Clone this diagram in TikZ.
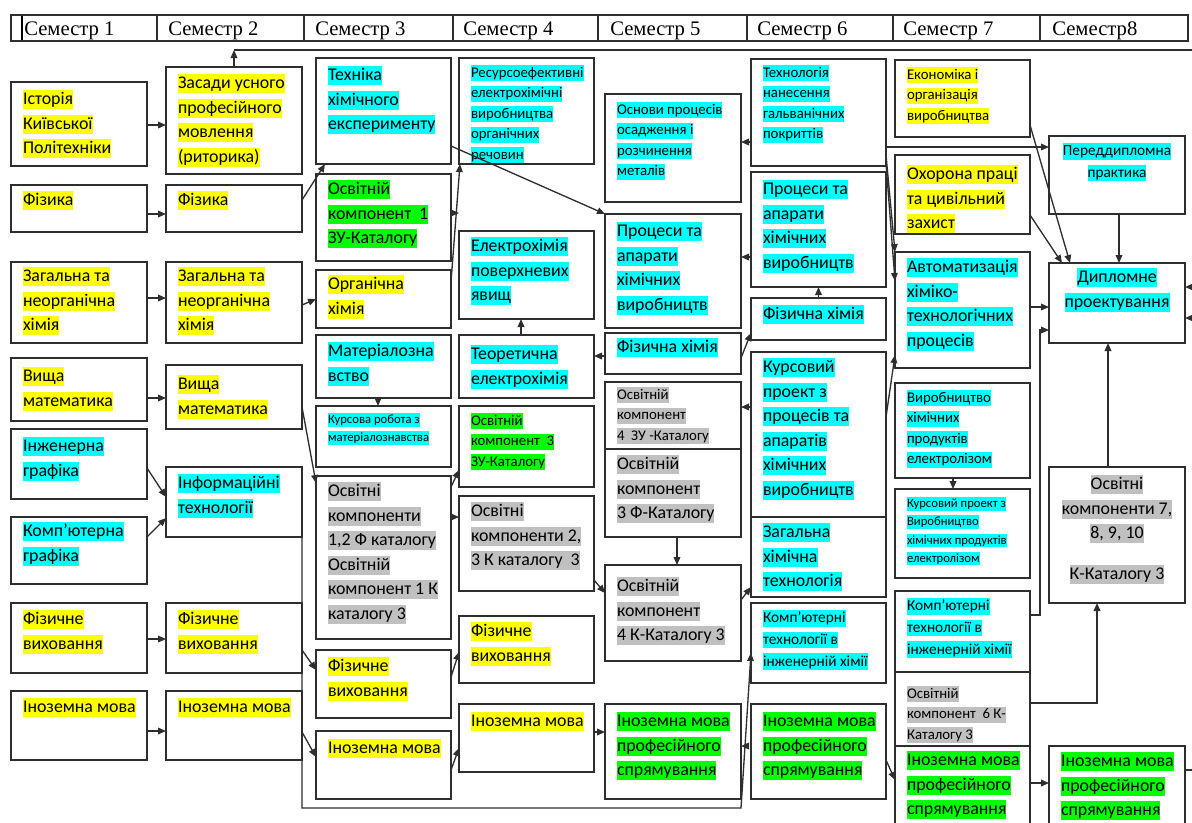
\documentclass[tikz,border=0pt]{standalone}
\usepackage{fontspec}
\setmainfont{Carlito}
\newfontfamily\hdrfont{Liberation Serif}
\usetikzlibrary{arrows.meta,calc}
\definecolor{hy}{HTML}{FFFF00}
\definecolor{hc}{HTML}{00FFFF}
\definecolor{hg}{HTML}{00FF00}
\definecolor{hs}{HTML}{C0C0C0}
\definecolor{ln}{HTML}{2E2E2E}
\newcommand{\hlc}[2]{{\setlength{\fboxsep}{0pt}\colorbox{#1}{\rule[-0.25em]{0pt}{1.08em}#2}}}
\newcommand{\hlY}[1]{\hlc{hy}{#1}}
\newcommand{\hlC}[1]{\hlc{hc}{#1}}
\newcommand{\hlG}[1]{\hlc{hg}{#1}}
\newcommand{\hlS}[1]{\hlc{hs}{#1}}
\newcommand{\bx}[5]{\node[box, minimum width={(#4-#2)*0.75pt}, minimum height={(#5-#3)*0.75pt}] (#1) at ({(#2+#4)/2},{(#3+#5)/2}) {};}
\newcommand{\btx}[4][7]{\node[txt,#2] (#3t) at ([shift={(12,#1)}]#3.north west) {#4};}
\newcommand{\ctx}[4][7]{\node[txt,anchor=north,align=center,#2] (#3t) at ([shift={(0,#1)}]#3.north) {#4};}
\newcommand{\hx}[3]{\node[hcell, minimum width={(#3-#2)*0.75pt}, minimum height={26*0.75pt}] (#1) at ({(#2+#3)/2},28) {};}
\tikzset{
  box/.style={draw=ln, line width=1.3pt, rectangle, inner sep=0pt, outer sep=0pt},
  hcell/.style={draw=ln, line width=1.2pt, rectangle, inner sep=0pt, outer sep=0pt},
  arr/.style={draw=ln, line width=1pt, -{Triangle[length=6pt,width=5pt]}},
  plain/.style={draw=ln, line width=1pt},
  txt/.style={inner sep=0pt, outer sep=0pt, anchor=north west, align=left, text=black},
  fbig/.style={font=\fontsize{13.4}{18.4}\selectfont},
  fmd/.style={font=\fontsize{11.5}{16.3}\selectfont},
  fsm/.style={font=\fontsize{11.1}{15.4}\selectfont},
  ftn/.style={font=\fontsize{9.5}{13.7}\selectfont},
  hdr/.style={font=\hdrfont\fontsize{15.5}{18}\selectfont, anchor=base west, inner sep=0pt, text=black}
}
\begin{document}
\begin{tikzpicture}[x=0.75pt,y=-0.75pt]
\useasboundingbox (0,0) rectangle (1192,822);
% header
\hx{h1}{11}{157}\hx{h2}{157}{304}\hx{h3}{304}{453}\hx{h4}{453}{598}
\hx{h5}{598}{747}\hx{h6}{747}{893}\hx{h7}{893}{1040}\hx{h8}{1040}{1188}
\draw[line width=1.8pt, black] (22,16) -- (22,40);
\node[hdr] (h1t) at (24,35) {Семестр 1};
\node[hdr] (h2t) at (168,35) {Семестр 2};
\node[hdr] (h3t) at (315,35) {Семестр 3};
\node[hdr] (h4t) at (463,35) {Семестр 4};
\node[hdr] (h5t) at (610,35) {Семестр 5};
\node[hdr] (h6t) at (757,35) {Семестр 6};
\node[hdr] (h7t) at (903,35) {Семестр 7};
\node[hdr] (h8t) at (1052,35) {Семестр8};
% column 1
\bx{ist}{11}{82}{147}{166}
\btx[8]{fbig}{ist}{\hlY{Історія}\\\hlY{Київської}\\\hlY{Політехніки}}
\bx{fiz1}{11}{185}{147}{232}
\btx[6]{fbig}{fiz1}{\hlY{Фізика}}
\bx{zag1}{11}{262}{147}{343}
\btx[5]{fbig}{zag1}{\hlY{Загальна та}\\\hlY{неорганічна}\\\hlY{хімія}}
\bx{vm1}{11}{358}{147}{421}
\btx[9]{fbig}{vm1}{\hlY{Вища}\\\hlY{математика}}
\bx{ig}{11}{429}{147}{499}
\btx[8]{fbig}{ig}{\hlC{Інженерна}\\\hlC{графіка}}
\bx{kg}{11}{517}{147}{584}
\btx[5]{fbig}{kg}{\hlC{Комп'ютерна}\\\hlC{графіка}}
\bx{fv1}{11}{603}{147}{673}
\btx[7]{fbig}{fv1}{\hlY{Фізичне}\\\hlY{виховання}}
\bx{im1}{11}{691}{147}{760}
\btx[7]{fbig}{im1}{\hlY{Іноземна мова}}
% column 2
\bx{zas}{166}{67}{302}{174}
\btx[7]{fbig}{zas}{\hlY{Засади усного}\\\hlY{професійного}\\\hlY{мовлення}\\\hlY{(риторика)}}
\bx{fiz2}{166}{185}{302}{232}
\btx[6]{fbig}{fiz2}{\hlY{Фізика}}
\bx{zag2}{166}{262}{302}{343}
\btx[5]{fbig}{zag2}{\hlY{Загальна та}\\\hlY{неорганічна}\\\hlY{хімія}}
\bx{vm2}{166}{365}{302}{429}
\btx[10]{fbig}{vm2}{\hlY{Вища}\\\hlY{математика}}
\bx{it}{166}{467}{302}{537}
\btx[7]{fbig}{it}{\hlC{Інформаційні}\\\hlC{технології}}
\bx{fv2}{166}{603}{302}{673}
\btx[7]{fbig}{fv2}{\hlY{Фізичне}\\\hlY{виховання}}
\bx{im2}{166}{691}{302}{760}
\btx[7]{fbig}{im2}{\hlY{Іноземна мова}}
% column 3
\bx{tech}{316}{58}{451}{164}
\btx[8]{fbig}{tech}{\hlC{Техніка}\\\hlC{хімічного}\\\hlC{експерименту}}
\bx{ok1}{316}{174}{451}{261}
\btx[6]{fbig}{ok1}{\hlG{Освітній}\\\hlG{компонент~ 1}\\\hlG{ЗУ-Каталогу}}
\bx{org}{316}{270}{451}{328}
\btx[5]{fbig}{org}{\hlY{Органічна}\\\hlY{хімія}}
\bx{mat}{316}{335}{451}{398}
\btx[7]{fbig}{mat}{\hlC{Матеріалозна}\\\hlC{вство}}
\bx{kurm}{316}{406}{451}{467}
\btx[7]{ftn}{kurm}{\hlC{Курсова робота з}\\\hlC{матеріалознавства}}
\bx{okf}{316}{476}{451}{639}
\btx[6]{fbig}{okf}{\hlS{Освітні}\\\hlS{компоненти}\\\hlS{1,2 Ф каталогу}\\\hlS{Освітній}\\\hlS{компонент 1 К}\\\hlS{каталогу 3}}
\bx{fv3}{316}{650}{451}{718}
\btx[7]{fbig}{fv3}{\hlY{Фізичне}\\\hlY{виховання}}
\bx{im3}{316}{731}{451}{799}
\btx[8]{fbig}{im3}{\hlY{Іноземна мова}}
% column 4
\bx{res}{459}{58}{594}{164}
\btx[7]{fsm}{res}{\hlC{Ресурсоефективні}\\\hlC{електрохімічні}\\\hlC{виробництва}\\\hlC{органічних}\\\hlC{речовин}}
\bx{ehpov}{459}{231}{594}{319}
\btx[6]{fbig}{ehpov}{\hlC{Електрохімія}\\\hlC{поверхневих}\\\hlC{явищ}}
\bx{teor}{459}{335}{594}{398}
\btx[10]{fbig}{teor}{\hlC{Теоретична}\\\hlC{електрохімія}}
\bx{ok3}{459}{406}{594}{487}
\btx[7]{fsm}{ok3}{\hlG{Освітній}\\\hlG{компонент~ 3}\\\hlG{ЗУ-Каталогу}}
\bx{ok23}{459}{496}{594}{591}
\btx[6]{fbig}{ok23}{\hlS{Освітні}\\\hlS{компоненти 2,}\\\hlS{3 К каталогу~ 3}}
\bx{fv4}{459}{616}{594}{683}
\btx[6]{fbig}{fv4}{\hlY{Фізичне}\\\hlY{виховання}}
\bx{im4}{459}{704}{594}{772}
\btx[8]{fbig}{im4}{\hlY{Іноземна мова}}
% column 5
\bx{osn}{605}{94}{741}{202}
\btx[8]{fsm}{osn}{\hlC{Основи процесів}\\\hlC{осадження і}\\\hlC{розчинення}\\\hlC{металів}}
\bx{pa5}{605}{214}{741}{328}
\btx[8]{fbig}{pa5}{\hlC{Процеси та}\\\hlC{апарати}\\\hlC{хімічних}\\\hlC{виробництв}}
\bx{fh5}{605}{333}{741}{374}
\btx[5]{fbig}{fh5}{\hlC{Фізична хімія}}
\bx{ok4zu}{605}{382}{741}{449}
\btx[5]{fsm}{ok4zu}{\hlS{Освітній}\\\hlS{компонент}\\\hlS{4~ ЗУ -Каталогу}}
\bx{ok3f}{605}{449}{741}{537}
\btx[6]{fbig}{ok3f}{\hlS{Освітній}\\\hlS{компонент}\\\hlS{3 Ф-Каталогу}}
\bx{ok4k}{605}{565}{741}{661}
\btx[12]{fbig}{ok4k}{\hlS{Освітній}\\\hlS{компонент}\\\hlS{4 К-Каталогу 3}}
\bx{imp5}{605}{704}{741}{799}
\btx[8]{fbig}{imp5}{\hlG{Іноземна мова}\\\hlG{професійного}\\\hlG{спрямування}}
% column 6
\bx{tng}{751}{59}{886}{166}
\btx[6]{fsm}{tng}{\hlC{Технологія}\\\hlC{нанесення}\\\hlC{гальванічних}\\\hlC{покриттів}}
\bx{pa6}{751}{172}{886}{287}
\btx[8]{fbig}{pa6}{\hlC{Процеси та}\\\hlC{апарати}\\\hlC{хімічних}\\\hlC{виробництв}}
\bx{fh6}{751}{298}{886}{340}
\btx[7]{fbig}{fh6}{\hlC{Фізична хімія}}
\bx{kp}{751}{352}{886}{517}
\btx[6]{fbig}{kp}{\hlC{Курсовий}\\\hlC{проект з}\\\hlC{процесів та}\\\hlC{апаратів}\\\hlC{хімічних}\\\hlC{виробництв}}
\bx{zht}{751}{517}{886}{597}
\btx[6]{fbig}{zht}{\hlC{Загальна}\\\hlC{хімічна}\\\hlC{технологія}}
\bx{kt6}{751}{603}{886}{683}
\btx[7]{fmd}{kt6}{\hlC{Комп'ютерні}\\\hlC{технології в}\\\hlC{інженерній хімії}}
\bx{imp6}{751}{704}{886}{799}
\btx[8]{fbig}{imp6}{\hlG{Іноземна мова}\\\hlG{професійного}\\\hlG{спрямування}}
% column 7
\bx{eko}{895}{60}{1030}{137}
\btx[7]{fsm}{eko}{\hlY{Економіка і}\\\hlY{організація}\\\hlY{виробництва}}
\bx{ohor}{895}{155}{1030}{234}
\btx[10]{fbig}{ohor}{\hlY{Охорона праці}\\\hlY{та цивільний}\\\hlY{захист}}
\bx{avt}{895}{252}{1030}{368}
\btx[6]{fbig}{avt}{\hlC{Автоматизація}\\\hlC{хіміко-}\\\hlC{технологічних}\\\hlC{процесів}}
\bx{vyr}{895}{383}{1030}{478}
\btx[7]{fsm}{vyr}{\hlC{Виробництво}\\\hlC{хімічних}\\\hlC{продуктів}\\\hlC{електролізом}}
\bx{kpv}{895}{489}{1030}{578}
\btx[8]{ftn}{kpv}{\hlC{Курсовий проект з}\\\hlC{Виробництво}\\\hlC{хімічних продуктів}\\\hlC{електролізом}}
\bx{kt7}{895}{591}{1030}{672}
\btx[7]{fmd}{kt7}{\hlC{Комп'ютерні}\\\hlC{технології в}\\\hlC{інженерній хімії}}
\bx{ok6}{895}{672}{1030}{746}
\btx[14]{fsm}{ok6}{\hlS{Освітній}\\\hlS{компонент~ 6 К-}\\\hlS{Каталогу 3}}
\bx{imp7}{895}{746}{1030}{845}
\btx[5]{fbig}{imp7}{\hlG{Іноземна мова}\\\hlG{професійного}\\\hlG{спрямування}}
% column 8
\bx{pered}{1049}{136}{1185}{214}
\ctx[7]{fmd}{pered}{\hlC{Переддипломна}\\\hlC{практика}}
\bx{dyp}{1049}{263}{1185}{343}
\ctx[5]{fbig}{dyp}{\hlC{Дипломне}\\\hlC{проектування}}
\bx{ok7}{1049}{467}{1185}{603}
\ctx[8]{fbig}{ok7}{\hlS{Освітні}\\\hlS{компоненти 7,}\\\hlS{8, 9, 10}\\[12pt]\hlS{К-Каталогу 3}}
\bx{imp8}{1049}{746}{1185}{845}
\btx[6]{fbig}{imp8}{\hlG{Іноземна мова}\\\hlG{професійного}\\\hlG{спрямування}}
% connectors
\draw[arr] (ist.east |- 0,125) -- (zas.west |- 0,125);
\draw[arr] (fiz1.east |- 0,214) -- (fiz2.west |- 0,214);
\draw[arr] (zag1.east |- 0,298) -- (zag2.west |- 0,298);
\draw[arr] (vm1.east |- 0,398) -- (vm2.west |- 0,398);
\draw[arr] (ig.east |- 0,468) -- (it.west |- 0,497);
\draw[arr] (kg.east |- 0,537) -- (it.west |- 0,518);
\draw[arr] (fv1.east |- 0,639) -- (fv2.west |- 0,639);
\draw[arr] (im1.east |- 0,731) -- (im2.west |- 0,731);
\coordinate (topR) at (1192,50);
\draw[plain] (zas.north |- topR) -- (topR);
\draw[arr] (zas.north) -- (zas.north |- topR);
\draw[arr] (fiz2.east |- 0,200) -- (tech.south -| 325,0);
\draw[arr] (zag2.east |- 0,305) -- (org.west |- 0,299);
\draw[arr] (vm2.east |- 0,407) -- (okf.west |- 0,483);
\draw[arr] (fv2.east |- 0,650) -- (fv3.west |- 0,670);
\draw[arr] (im2.east |- 0,732) -- (im3.west |- 0,757);
\draw[arr] (it.south east) -- (it.east |- 0,808) -- (imp5.east |- 0,808) -- (kt6.west |- 0,653);
\draw[arr] (org.east |- 0,282) -- (res.south -| 460,0);
\draw[arr] (ok1.east |- 0,213) -- ++(8,0);
\draw[arr] (tech.east |- 0,146) -- (pa5.north west);
\draw[arr] (teor.north -| 521,0) -- (ehpov.south -| 521,0);
\draw[arr] (mat.south -| 378,0) -- (kurm.north -| 378,0);
\draw[arr] (fh5.west |- 0,356) -- (teor.east |- 0,356);
\draw[arr] (fh5.east |- 0,358) -- (fh6.west |- 0,333);
\draw[arr] (fh6.north) -- (pa6.south);
\draw[arr] (kp.west |- 0,407) -- (ok4zu.east |- 0,407);
\draw[arr] (kp.east |- 0,417) -- (avt.west |- 0,355);
\draw[arr] (tng.east |- 0,155) -- (avt.north west);
\draw[arr] (tng.east |- 0,163) -- (avt.west |- 0,281);
\draw[arr] (tng.east |- 0,147) -- (pered.west |- 0,147);
\draw[arr] (eko.east |- 0,125) -- (dyp.north -| 1070,0);
\draw[arr] (ohor.east |- 0,215) -- (dyp.north -| 1062,0);
\draw[arr] (pered.south -| 1119,0) -- (dyp.north -| 1119,0);
\draw[arr] (avt.east |- 0,307) -- (dyp.west |- 0,307);
\draw[arr] (kt7.east |- 0,615) -- (1040,615) |- (dyp.west |- 0,330);
\draw[arr] (ok7.north -| 1108,0) -- (dyp.south -| 1108,0);
\draw[arr] (ok6.east |- 0,703) -| (ok7.south -| 1097,0);
\draw[arr] (vyr.south -| 953,0) -- (kpv.north -| 953,0);
\draw[arr] (imp7.east |- 0,783) -- (imp8.west |- 0,783);
\coordinate (botR) at (1192,770);
\draw[plain] (imp8.east |- botR) -- (botR);
\draw[arr] (imp6.east |- 0,760) -- (imp7.west |- 0,780);
\draw[arr] (ok4k.east |- 0,600) -- (zht.west |- 0,587);
\draw[arr] (ok3f.south -| 677,0) -- (ok4k.north -| 677,0);
\draw[arr] (ok23.east |- 0,580) -- (ok4k.west |- 0,593);
\draw[arr] (okf.east |- 0,517) -- (ok23.west |- 0,517);
\draw[arr] (okf.east |- 0,487) -- (ok3.west |- 0,470);
\draw[arr] (fv3.east |- 0,677) -- (fv4.west |- 0,652);
\draw[arr] (im3.east |- 0,770) -- (im4.west |- 0,748);
\draw[arr] (im4.east |- 0,732) -- (imp5.west |- 0,732);
\draw[arr] (pa6.west |- 0,257) -- (pa5.east |- 0,257);
\draw[arr] (tng.west |- 0,142) -- (osn.east |- 0,142);
\draw[arr] ($(imp5.east |- 0,746)+(6,0)$) -- (imp5.east |- 0,746);
\coordinate (rA) at (1192,287);
\coordinate (rB) at (1192,318);
\draw[arr] (rA) -- (dyp.east |- rA);
\draw[arr] (rB) -- (dyp.east |- rB);
\end{tikzpicture}
\end{document}
